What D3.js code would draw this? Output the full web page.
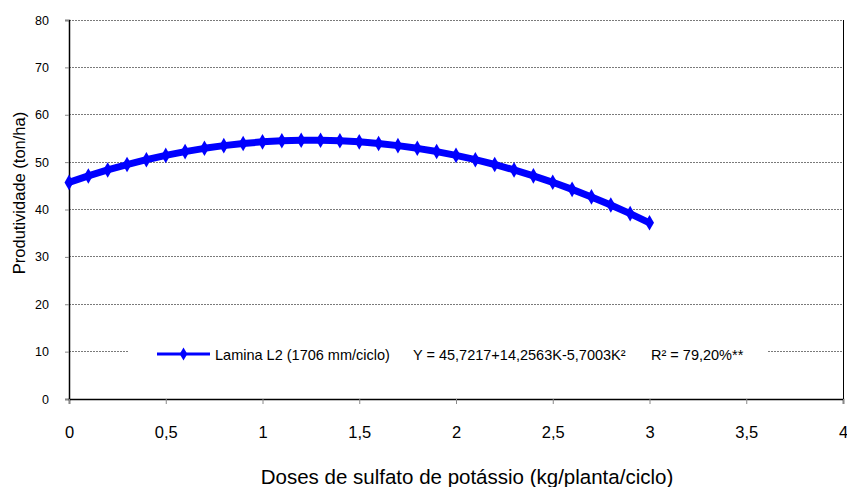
<!DOCTYPE html>
<html>
<head>
<meta charset="utf-8">
<script src="https://cdn.jsdelivr.net/npm/d3@7"></script>
<style>
  html, body { margin: 0; padding: 0; background: #fff; }
  svg { display: block; font-family: "Liberation Sans", Arial, sans-serif; }
</style>
</head>
<body>
<svg id="chart" width="847" height="487"></svg>
<script>
// Doses of potassium sulfate (kg/plant/cycle)
const doses = [0, 0.1, 0.2, 0.3, 0.4, 0.5, 0.6, 0.7, 0.8, 0.9, 1.0,
               1.1, 1.2, 1.3, 1.4, 1.5, 1.6, 1.7, 1.8, 1.9, 2.0,
               2.1, 2.2, 2.3, 2.4, 2.5, 2.6, 2.7, 2.8, 2.9, 3.0];
// Yield (ton/ha), Lamina L2
const yieldL2 = [45.72, 47.09, 48.35, 49.49, 50.51, 51.42, 52.22, 52.91, 53.48, 53.94, 54.28,
                 54.51, 54.62, 54.62, 54.51, 54.28, 53.94, 53.48, 52.91, 52.23, 51.43,
                 50.52, 49.50, 48.36, 47.10, 45.74, 44.25, 42.66, 40.95, 39.13, 37.19];
const xTicks = [0, 0.5, 1, 1.5, 2, 2.5, 3, 3.5, 4];
const yTicks = [0, 10, 20, 30, 40, 50, 60, 70, 80];
const seriesName = "Lamina L2 (1706 mm/ciclo)";
const equationText = "Y = 45,7217+14,2563K-5,7003K²";
const r2Text = "R² = 79,20%**";

const svg = d3.select("#chart");
const plotL = 69, plotR = 843, plotT = 20, plotB = 399;

const x = d3.scaleLinear().domain([0, 4]).range([plotL, plotR]);
const y = d3.scaleLinear().domain([0, 80]).range([plotB, plotT]);
const fmt = d => String(d).replace(".", ",");
const FONT = "Liberation Sans, Arial, sans-serif";

// Legend box geometry (interrupts the gridline at 10)
const legL = 128, legR = 768;

// Horizontal gridlines
yTicks.filter(t => t > 0).forEach(t => {
  const segs = t === 10 ? [[plotL, legL], [legR, plotR]] : [[plotL, plotR]];
  segs.forEach(([a, b]) => {
    svg.append("line")
      .attr("x1", a).attr("x2", b)
      .attr("y1", y(t)).attr("y2", y(t))
      .attr("stroke", "#7a7a7a").attr("stroke-width", 1)
      .attr("stroke-dasharray", "2,1")
      .attr("shape-rendering", "crispEdges");
  });
});

// Right border
svg.append("line")
  .attr("x1", plotR).attr("x2", plotR).attr("y1", plotT).attr("y2", plotB)
  .attr("stroke", "#000").attr("stroke-width", 1).attr("shape-rendering", "crispEdges");

// Y axis
const yAxis = d3.axisLeft(y).tickValues(yTicks).tickSize(4).tickPadding(16);
const gy = svg.append("g").attr("transform", `translate(${plotL},0)`).call(yAxis);
gy.select(".domain").attr("stroke", "#000").attr("stroke-width", 1.5);
gy.selectAll(".tick line").attr("stroke", "#888");
gy.selectAll(".tick text").attr("font-size", 12.5).attr("fill", "#000")
  .attr("font-family", FONT);

// X axis
const xAxis = d3.axisBottom(x).tickValues(xTicks).tickFormat(fmt).tickSize(5).tickPadding(22);
const gx = svg.append("g").attr("transform", `translate(0,${plotB})`).call(xAxis);
gx.select(".domain").attr("stroke", "#000").attr("stroke-width", 1.5);
gx.selectAll(".tick line").attr("stroke", "#888");
gx.selectAll(".tick text").attr("font-size", 16.5).attr("fill", "#000")
  .attr("font-family", FONT).attr("dy", null).attr("y", 5 + 22 + 12);

// Axis titles
svg.append("text")
  .attr("x", 467).attr("y", 484)
  .attr("text-anchor", "middle").attr("font-size", 20.5)
  .text("Doses de sulfato de potássio (kg/planta/ciclo)");
svg.append("text")
  .attr("transform", `translate(25,193) rotate(-90)`)
  .attr("text-anchor", "middle").attr("font-size", 16.5)
  .text("Produtividade (ton/ha)");

// Series line
const pts = doses.map((d, i) => [d, yieldL2[i]]);
const line = d3.line().x(d => x(d[0])).y(d => y(d[1]));
const blue = "#0000ff";
svg.append("path")
  .datum(pts)
  .attr("d", line)
  .attr("fill", "none").attr("stroke", blue)
  .attr("stroke-width", 7).attr("stroke-linejoin", "round");

// Diamond markers
const diamond = d3.symbol().type(d3.symbolDiamond).size(70);
svg.append("g").selectAll("path")
  .data(pts).join("path")
  .attr("d", diamond)
  .attr("transform", d => `translate(${x(d[0])},${y(d[1])})`)
  .attr("fill", blue);

// Legend
const legY = 354;
svg.append("line")
  .attr("x1", 157).attr("x2", 210).attr("y1", legY).attr("y2", legY)
  .attr("stroke", blue).attr("stroke-width", 3);
svg.append("path")
  .attr("d", d3.symbol().type(d3.symbolDiamond).size(50))
  .attr("transform", `translate(183.5,${legY})`)
  .attr("fill", blue);
svg.append("text").attr("x", 215).attr("y", 360)
  .attr("font-size", 14.5).text(seriesName);
svg.append("text").attr("x", 413).attr("y", 360)
  .attr("font-size", 14.5).text(equationText);
svg.append("text").attr("x", 651).attr("y", 360)
  .attr("font-size", 14.5).text(r2Text);
</script>
</body>
</html>
